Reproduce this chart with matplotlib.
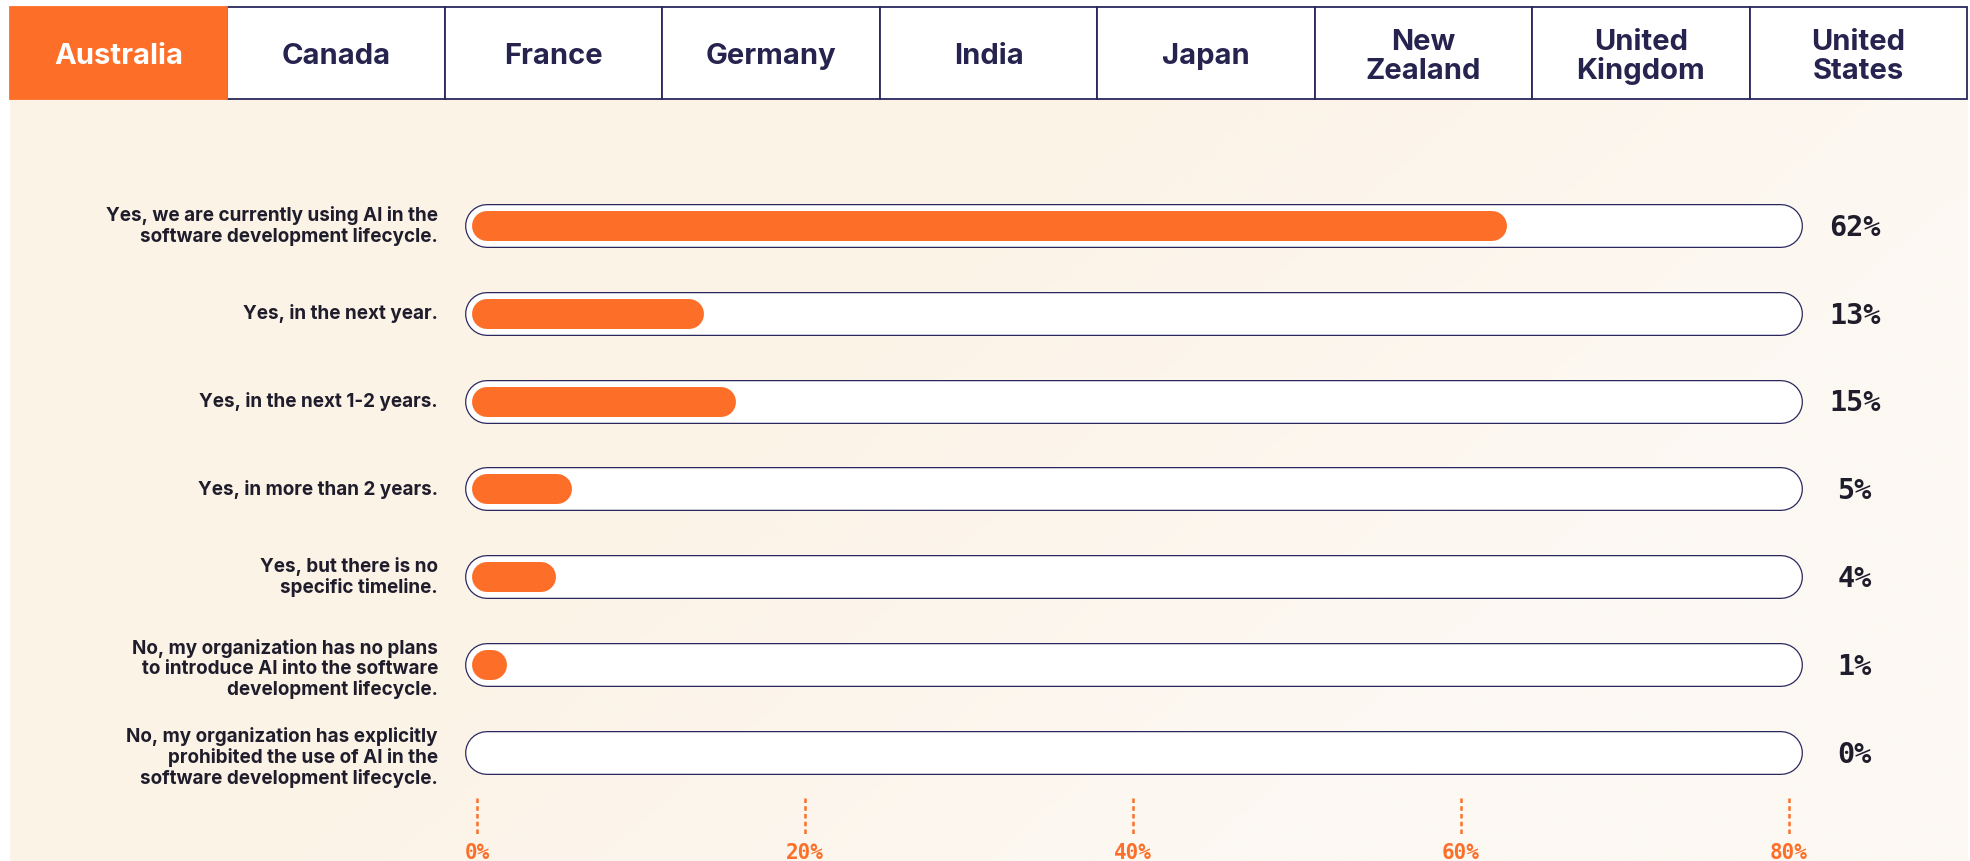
import numpy as np
import matplotlib
matplotlib.use("Agg")
import matplotlib.pyplot as plt
from matplotlib.patches import Rectangle
from matplotlib.colors import to_rgb

# ---------------- data ----------------
countries = ["Australia", "Canada", "France", "Germany", "India", "Japan",
             "New\nZealand", "United\nKingdom", "United\nStates"]
selected_country = "Australia"

answers = [
    "Yes, we are currently using AI in the\nsoftware development lifecycle.",
    "Yes, in the next year.",
    "Yes, in the next 1-2 years.",
    "Yes, in more than 2 years.",
    "Yes, but there is no\nspecific timeline.",
    "No, my organization has no plans\nto introduce AI into the software\ndevelopment lifecycle.",
    "No, my organization has explicitly\nprohibited the use of AI in the\nsoftware development lifecycle.",
]
values = [62, 13, 15, 5, 4, 1, 0]
value_labels = [f"{v}%" for v in values]
ticks = [0, 20, 40, 60, 80]
tick_labels = ["0%", "20%", "40%", "60%", "80%"]

# ---------------- style ----------------
ORANGE = "#FD6F28"
NAVY = "#2A275E"
DARK = "#1F1D2B"
TABTXT = "#26234F"
W, H = 1970, 861
PT = 0.72  # points per pixel at dpi 100

fig = plt.figure(figsize=(W / 100, H / 100), dpi=100)
fig.patch.set_facecolor("white")

# background / tabs layer (pixel coordinates)
bg = fig.add_axes([0, 0, 1, 1])
bg.set_xlim(0, W)
bg.set_ylim(H, 0)
bg.axis("off")

c1 = np.array(to_rgb("#FCF3E7"))
c2 = np.array(to_rgb("#FCF8F2"))
gx, gy = np.meshgrid(np.linspace(0, 1, 400), np.linspace(0, 1, 200))
t = np.clip((gx * 1.0 + gy * 0.45 - 0.55) / 0.5, 0, 1)
img = c1[None, None, :] * (1 - t[..., None]) + c2[None, None, :] * t[..., None]
bg.imshow(img, extent=(10, 1968, H, 99), aspect="auto", zorder=0, interpolation="bilinear")

tab_x0, tab_x1, tab_top, tab_bot = 10, 1967, 7, 99
tab_w = (tab_x1 - tab_x0) / len(countries)
for k, name in enumerate(countries):
    x = tab_x0 + k * tab_w
    sel = name == selected_country
    bg.add_patch(Rectangle((x, tab_top), tab_w, tab_bot - tab_top,
                           facecolor=ORANGE if sel else "white",
                           edgecolor=ORANGE if sel else NAVY,
                           lw=1.3, zorder=2 if sel else 1))
    bg.text(x + tab_w / 2, 57, name, ha="center", va="center",
            fontsize=21, family="Inter", weight="bold", linespacing=1.06,
            color="white" if sel else TABTXT, zorder=3)

# ---------------- chart axes ----------------
x0_px, px_per = 477, 16.4
y0_px, py_per = 226, 87.8
ax_left, ax_right, ax_top = 465, 1803, 138
ax = fig.add_axes([ax_left / W, 0, (ax_right - ax_left) / W, (H - ax_top) / H])
ax.set_xlim((ax_left - x0_px) / px_per, (ax_right - x0_px) / px_per)
ax.set_ylim((H - y0_px) / py_per, (ax_top - y0_px) / py_per)
ax.axis("off")
ax.patch.set_alpha(0)

track_start, track_end = 0.6, 79.5
for i, (lab, v, vl) in enumerate(zip(answers, values, value_labels)):
    ax.plot([track_start, track_end], [i, i], color=NAVY, lw=44 * PT,
            solid_capstyle="round", zorder=2)
    ax.plot([track_start, track_end], [i, i], color="white", lw=41.5 * PT,
            solid_capstyle="round", zorder=3)
    if v > 0:
        ax.plot([track_start, max(v - 0.1, track_start + 0.1)], [i, i], color=ORANGE,
                lw=30 * PT, solid_capstyle="round", zorder=4)
    ax.text(84, i + 0.02, vl, ha="center", va="center", fontsize=20.5,
            family="DejaVu Sans Mono", weight="bold", color=DARK)
    nlines = lab.count("\n") + 1
    ax.text(-2.38, i + (0.05 if nlines == 3 else 0.0), lab, ha="right", va="center",
            fontsize=13.6, family="Inter", weight="bold", color=DARK,
            linespacing=1.14, multialignment="right")

for tk, tl in zip(ticks, tick_labels):
    ax.plot([tk, tk], [6.52, 6.94], color=ORANGE, lw=1.8,
            linestyle=(0, (1.8, 1.3)), zorder=2)
    ax.text(tk, 7.03, tl, ha="center", va="top", fontsize=15,
            family="DejaVu Sans Mono", weight="bold", color=ORANGE)

fig.savefig("out.png", dpi=100, facecolor="white")
